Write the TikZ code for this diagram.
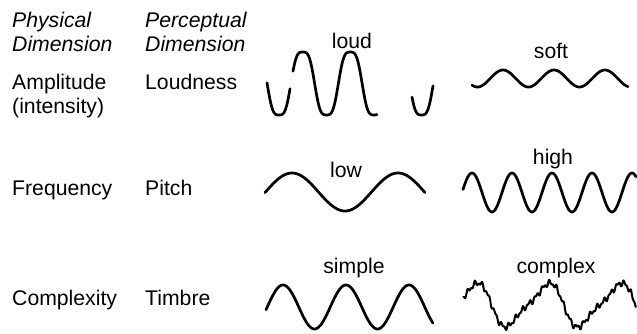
\documentclass[tikz,border=0pt]{standalone}
\usepackage{fontspec}
\setmainfont{Liberation Sans}
\begin{document}
\begin{tikzpicture}[x=1pt,y=-1pt,
  lbl/.style={anchor=base west,inner sep=0pt,font=\fontsize{21.2}{24}\selectfont},
  hdr/.style={lbl,font=\fontsize{21.2}{24}\selectfont\itshape},
  wlbl/.style={anchor=base,inner sep=0pt,font=\fontsize{21.2}{24}\selectfont},
  wave/.style={line width=2.7pt,line join=round,line cap=round}]
\useasboundingbox (0,0) rectangle (637,333);
% headers
\node[hdr] (h1a) at (12,27) {Physical};
\node[hdr] (h1b) at (12,51) {Dimension};
\node[hdr] (h2a) at (145,27) {Perceptual};
\node[hdr] (h2b) at (145,51) {Dimension};
% rows
\node[lbl] (amp) at (12,89) {Amplitude};
\node[lbl] (int) at (12,113) {(intensity)};
\node[lbl] (loudn) at (145,89) {Loudness};
\node[lbl] (freq) at (12,195) {Frequency};
\node[lbl] (pitch) at (145,195) {Pitch};
\node[lbl] (cplx) at (12,305) {Complexity};
\node[lbl] (timb) at (145,305) {Timbre};
% wave labels
\node[wlbl] (loud) at (352,48) {loud};
\node[wlbl] (soft) at (551,58) {soft};
\node[wlbl] (low) at (346,177) {low};
\node[wlbl] (high) at (553,164) {high};
\node[wlbl] (simple) at (354,273) {simple};
\node[wlbl] (complex) at (556,273) {complex};
% loud (flattened peaks)
\draw[wave] plot[domain=267:290,samples=30] (\x,{83.5+35*(cos(7.5789*(\x-279))-0.1*cos(22.737*(\x-279)))});
\draw[wave] plot[domain=293:377,samples=120] (\x,{83.5+35*(cos(7.5789*(\x-279))-0.1*cos(22.737*(\x-279)))});
\draw[wave] plot[domain=412:433,samples=30] (\x,{83.5+35*(cos(7.5789*(\x-279))-0.1*cos(22.737*(\x-279)))});
% soft
\draw[wave] plot[domain=472:628,samples=160] (\x,{78.5-8.5*cos(7.0588*(\x-503))});
% low
\draw[wave] plot[domain=265:425,samples=160] (\x,{192-19*cos(3.3962*(\x-292))});
% high
\draw[wave] plot[domain=463:636,samples=200] (\x,{192.5-19.5*cos(9*(\x-472))});
% simple
\draw[wave] plot[domain=266:433,samples=180] (\x,{307-22*cos(5.7143*(\x-283))});
% complex
\draw[line width=2pt,line join=round] plot[domain=463:636,samples=350]
  (\x,{305-20*(sin(5*(\x-527.7))-0.25*sin(10*(\x-527.7)))+2*sin(53*(\x-463))+1.5*sin(97*(\x-550))});
\end{tikzpicture}
\end{document}
